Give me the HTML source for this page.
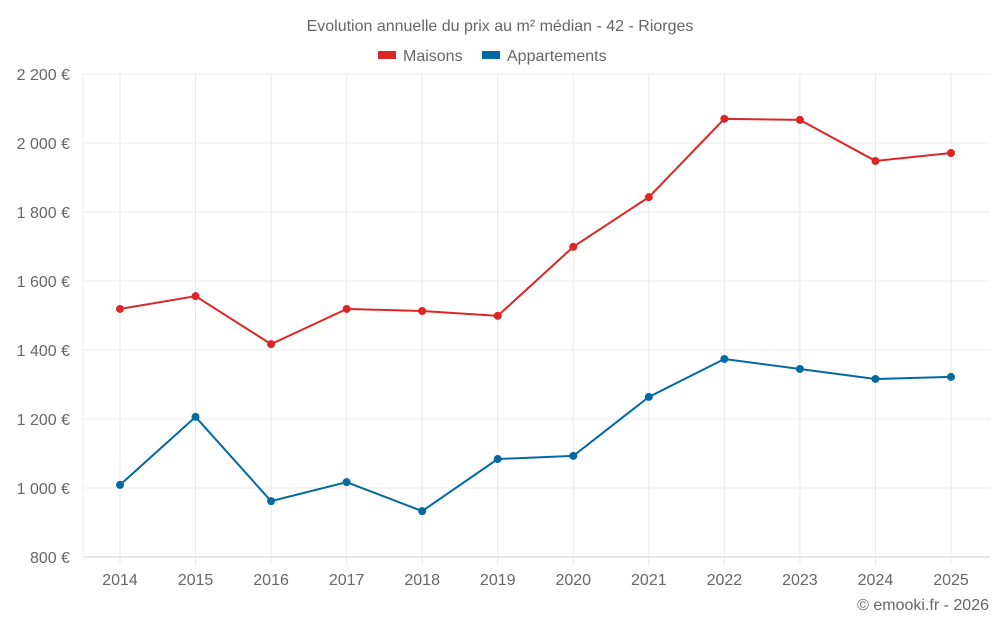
<!DOCTYPE html>
<html><head><meta charset="utf-8"><style>
body{margin:0;background:#fff;font-family:"Liberation Sans",sans-serif;}
svg text{font-family:"Liberation Sans",sans-serif;fill:#666;}
</style></head><body>
<svg id="chart" width="1000" height="625">
<text x="500" y="31" text-anchor="middle" font-size="16">Evolution annuelle du prix au m² médian - 42 - Riorges</text>
<g>
<rect x="378" y="51" width="18" height="8" fill="#dc2626"/>
<text x="403" y="61" font-size="16">Maisons</text>
<rect x="482" y="51" width="18" height="8" fill="#0369a1"/>
<text x="507" y="61" font-size="16">Appartements</text>
</g>
<g id="grid"></g><g id="axes"></g><g id="series"></g>
<text x="989" y="610" text-anchor="end" font-size="16">© emooki.fr - 2026</text>
</svg>
<script>
const years=[2014,2015,2016,2017,2018,2019,2020,2021,2022,2023,2024,2025];
const maisons=[1519,1556,1417,1519,1513,1499,1699,1843,2070,2067,1948,1971];
const appartements=[1009,1206,962,1017,933,1084,1093,1264,1374,1345,1316,1322];
const yTicks=[800,1000,1200,1400,1600,1800,2000,2200];
const yTickLabels=["800 €","1 000 €","1 200 €","1 400 €","1 600 €","1 800 €","2 000 €","2 200 €"];
const NS="http://www.w3.org/2000/svg";
const L=83,R=990,T=74,B=557;
function x(i){return 120+i*(951-120)/(years.length-1);}
function y(v){return B-(v-800)/(2200-800)*(B-T);}
function mk(tag,attrs,parent){const e=document.createElementNS(NS,tag);for(const k in attrs)e.setAttribute(k,attrs[k]);parent.appendChild(e);return e;}
const grid=document.getElementById('grid'),axes=document.getElementById('axes'),ser=document.getElementById('series');
yTicks.forEach((v,i)=>{
 const l=mk('line',{x1:L,x2:R,y1:y(v),y2:y(v),stroke:i==0?'#ccc':'#eee'},grid);
 
 
 const t=mk('text',{x:70,y:y(v)+6,'text-anchor':'end','font-size':16},axes);
 t.textContent=yTickLabels[i];
 
 
});
mk('line',{x1:L,x2:L,y1:T,y2:B,stroke:'#eee'},grid);
years.forEach((yr,i)=>{
 const l=mk('line',{x1:x(i),x2:x(i),y1:T,y2:B+8,stroke:'#e8e8e8'},grid);
 
 
 const t=mk('text',{x:x(i),y:585,'text-anchor':'middle','font-size':16},axes);
 t.textContent=yr;
 
 
});
function draw(data,color,name){
 const p=mk('polyline',{points:data.map((v,i)=>x(i)+','+y(v)).join(' '),fill:'none',stroke:color,'stroke-width':2},ser);
 
 
 data.forEach((v,i)=>{
  const c=mk('circle',{cx:x(i),cy:y(v),r:4,fill:color},ser);
  
  
 });
}
draw(maisons,'#dc2626','maisons');
draw(appartements,'#0369a1','appartements');
</script>
</body></html>
